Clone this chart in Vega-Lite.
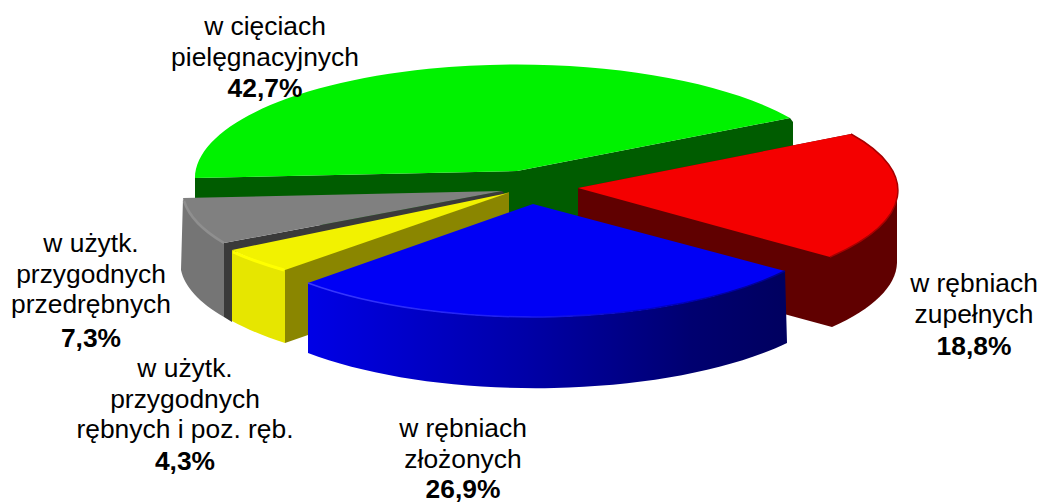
{"$schema":"https://vega.github.io/schema/vega-lite/v6.json","width":1041,"height":504,"padding":0,"autosize":{"type":"none"},"background":"white","config":{"view":{"stroke":null}},
"data":{"values":[
{"slice":"w cięciach pielęgnacyjnych","label":"w cięciach\npielęgnacyjnych","pct":"42,7%","share":42.7},
{"slice":"w rębniach zupełnych","label":"w rębniach\nzupełnych","pct":"18,8%","share":18.8},
{"slice":"w rębniach złożonych","label":"w rębniach\nzłożonych","pct":"26,9%","share":26.9},
{"slice":"w użytk. przygodnych rębnych i poz. ręb.","label":"w użytk.\nprzygodnych\nrębnych i poz. ręb.","pct":"4,3%","share":4.3},
{"slice":"w użytk. przygodnych przedrębnych","label":"w użytk.\nprzygodnych\nprzedrębnych","pct":"7,3%","share":7.3}
]},
"resolve":{"scale":{"x":"independent","y":"independent"}},
"layer":[
{"encoding":{
"x":{"field":"share","type":"quantitative","axis":null,"scale":{"domain":[4.3,7.3,18.8,26.9,42.7],"range":[508,502,578,533,517],"nice":false,"zero":false}},
"y":{"field":"share","type":"quantitative","axis":null,"scale":{"domain":[4.3,7.3,18.8,26.9,42.7],"range":[193,191,188,204,171],"nice":false,"zero":false}}},
"layer":[
{"transform":[{"filter":"datum.share==42.7"}],"mark":{"type":"point","size":4,"opacity":1,"filled":true,"fill":"#005c00","stroke":null,"shape":"M-322,7 L0,0 L273,-53 L276,-49 L276,4 L23,69 L-117,69 L-322,29 Z"}},
{"transform":[{"filter":"datum.share==42.7"}],"mark":{"type":"point","size":4,"opacity":1,"filled":true,"fill":"#00f200","stroke":null,"shape":"M0,0 L-322,7 A322,114 0 0 1 273,-53 Z"}},
{"transform":[{"filter":"datum.share==7.3"}],"mark":{"type":"point","size":4,"opacity":1,"filled":true,"fill":"#3a3a3a","stroke":null,"shape":"M0,0 L-278,52 L-278,126 L-270,131 L-270,62 L6,6 Z"}},
{"transform":[{"filter":"datum.share==7.3"}],"mark":{"type":"point","size":4,"opacity":1,"filled":true,"fill":"#757575","stroke":null,"shape":"M-319,7 A319,108 0 0 0 -278,52 L-278,126 A319,108 0 0 1 -321,79 Z"}},
{"transform":[{"filter":"datum.share==7.3"}],"mark":{"type":"point","size":4,"opacity":1,"filled":true,"fill":"#808080","stroke":null,"shape":"M0,0 L-319,7 A319,108 0 0 0 -278,52 Z"}},
{"transform":[{"filter":"datum.share==7.3"}],"mark":{"type":"point","size":4,"opacity":1,"filled":false,"stroke":"#8f8f8f","strokeWidth":2.5,"shape":"M-318,10 A319,108 0 0 0 -278,52"}},
{"transform":[{"filter":"datum.share==4.3"}],"mark":{"type":"point","size":4,"opacity":1,"filled":true,"fill":"#8a8600","stroke":null,"shape":"M1,-1 L-223,76 L-223,150 L-200,142 L-88,107 L1,67 Z"}},
{"transform":[{"filter":"datum.share==4.3"}],"mark":{"type":"point","size":4,"opacity":1,"filled":true,"fill":"#e6e600","stroke":null,"shape":"M-276,57 A319,108 0 0 0 -223,77 L-223,150 A319,108 0 0 1 -276,128 Z"}},
{"transform":[{"filter":"datum.share==4.3"}],"mark":{"type":"point","size":4,"opacity":1,"filled":true,"fill":"#f2f200","stroke":null,"shape":"M0,0 L-276,57 A319,108 0 0 0 -223,77 Z"}},
{"transform":[{"filter":"datum.share==4.3"}],"mark":{"type":"point","size":4,"opacity":1,"filled":false,"stroke":"#ffff00","strokeWidth":3,"shape":"M-275,59 A319,108 0 0 0 -224,77"}},
{"transform":[{"filter":"datum.share==18.8"}],"mark":{"type":"point","size":4,"opacity":1,"filled":true,"fill":"#600000","stroke":null,"shape":"M0,0 L0,70 L254,139 A319,108 0 0 0 319,75 L319,5 L273,-54 Z"}},
{"transform":[{"filter":"datum.share==18.8"}],"mark":{"type":"point","size":4,"opacity":1,"filled":true,"fill":"#f40000","stroke":null,"shape":"M0,0 L273,-54 A319,108 0 0 1 252,69 Z"}},
{"transform":[{"filter":"datum.share==18.8"}],"mark":{"type":"point","size":4,"opacity":1,"filled":false,"stroke":"#a80000","strokeWidth":1.5,"shape":"M273,-54 A319,108 0 0 1 252,69"}},
{"transform":[{"filter":"datum.share==26.9"}],"mark":{"type":"point","size":4,"opacity":1,"filled":true,"stroke":null,"fill":{"gradient":"linear","x1":0,"y1":0,"x2":1,"y2":0,"stops":[{"offset":0,"color":"#0000e6"},{"offset":0.45,"color":"#0000a8"},{"offset":0.8,"color":"#000070"},{"offset":1,"color":"#00005f"}]},"shape":"M-225,79 A314,113 0 0 0 252,67 L254,139 A314,113 0 0 1 -225,149 Z"}},
{"transform":[{"filter":"datum.share==26.9"}],"mark":{"type":"point","size":4,"opacity":1,"filled":true,"fill":"#0000f5","stroke":null,"shape":"M0,0 L252,67 A314,113 0 0 1 -225,79 Z"}},
{"transform":[{"filter":"datum.share==26.9"}],"mark":{"type":"point","size":4,"opacity":1,"filled":false,"strokeWidth":1.5,"stroke":{"gradient":"linear","x1":0,"y1":0,"x2":1,"y2":0,"stops":[{"offset":0,"color":"#3a3aff"},{"offset":0.45,"color":"#1c1cf0"},{"offset":0.7,"color":"#0000c8"},{"offset":1,"color":"#00008c"}]},"shape":"M252,67 A314,113 0 0 1 -225,79"}}
]},
{"mark":{"type":"text","font":"Liberation Sans","fontSize":26.4,"lineHeight":30.5,"lineBreak":"\n","align":"center","baseline":"alphabetic","color":"#000000"},
"encoding":{"text":{"field":"label"},
"x":{"field":"share","type":"quantitative","axis":null,"scale":{"domain":[4.3,7.3,18.8,26.9,42.7],"range":[185,91,974,463,265],"nice":false,"zero":false}},
"y":{"field":"share","type":"quantitative","axis":null,"scale":{"domain":[4.3,7.3,18.8,26.9,42.7],"range":[377,252,292,437,35],"nice":false,"zero":false}}}},
{"mark":{"type":"text","font":"Liberation Sans","fontSize":26.4,"fontWeight":"bold","align":"center","baseline":"alphabetic","color":"#000000"},
"encoding":{"text":{"field":"pct"},
"x":{"field":"share","type":"quantitative","axis":null,"scale":{"domain":[4.3,7.3,18.8,26.9,42.7],"range":[185,91,974,463,265],"nice":false,"zero":false}},
"y":{"field":"share","type":"quantitative","axis":null,"scale":{"domain":[4.3,7.3,18.8,26.9,42.7],"range":[470,347,355,498,97],"nice":false,"zero":false}}}}
]}
